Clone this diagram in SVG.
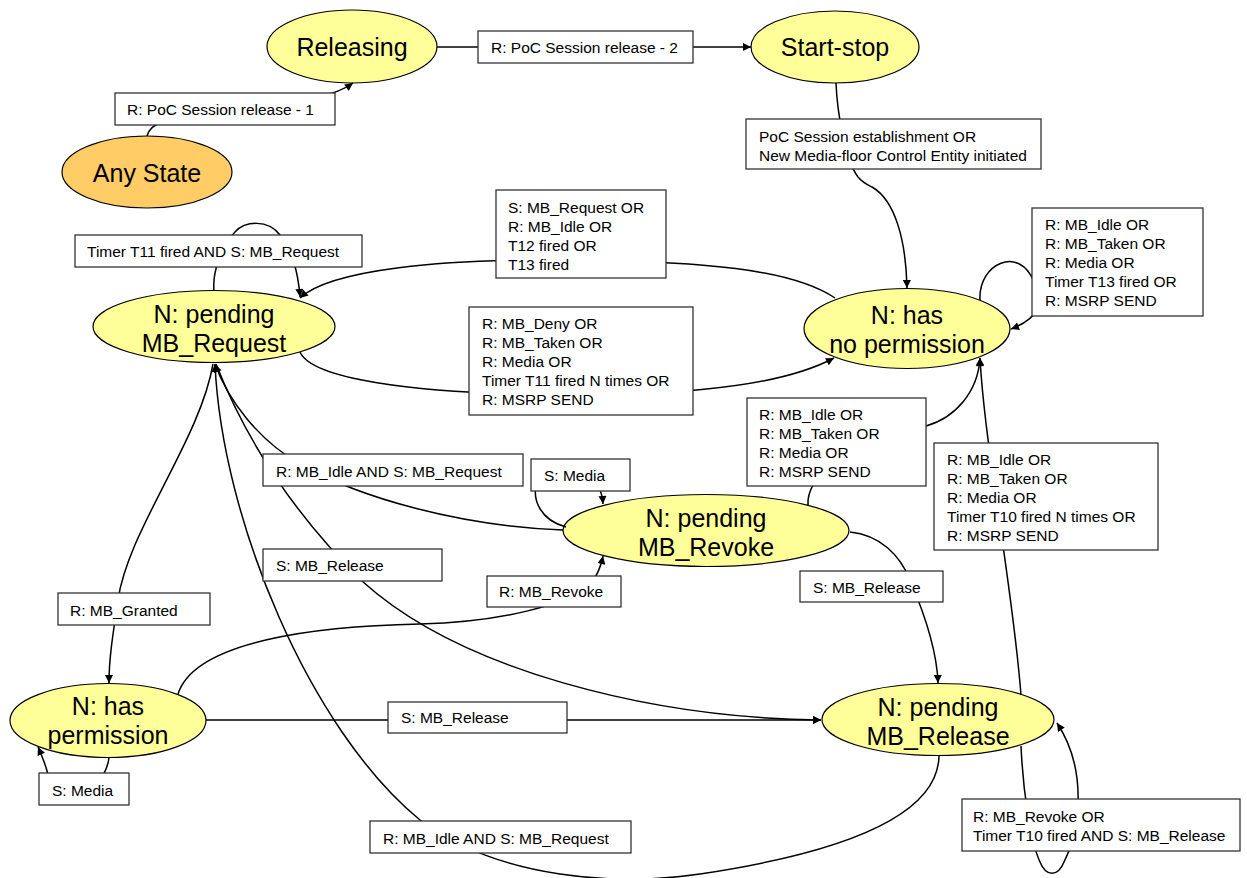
<svg xmlns="http://www.w3.org/2000/svg" width="1247" height="878" viewBox="0 0 1247 878">
<defs>
<marker id="arr" viewBox="0 0 10 10" refX="10" refY="5" markerWidth="10" markerHeight="8" markerUnits="userSpaceOnUse" orient="auto"><path d="M0,0 L10,5 L0,10 z" fill="#000"/></marker>
<style>
.node{fill:#FFFF99;stroke:#000;stroke-width:1.2}
.start{fill:#FFCC66;stroke:#000;stroke-width:1.2}
.nt{font-family:"Liberation Sans",Arial,sans-serif;font-size:25px;fill:#000;text-anchor:middle}
.e{fill:none;stroke:#000;stroke-width:1.5}
.ea{fill:none;stroke:#000;stroke-width:1.5;marker-end:url(#arr)}
.lb{fill:#fff;stroke:#333;stroke-width:1.3}
.lt{font-family:"Liberation Sans",Arial,sans-serif;font-size:15.5px;fill:#000}
</style>
</defs>
<rect width="1247" height="878" fill="#fff"/>

<g id="node-releasing"><ellipse class="node" cx="352" cy="46.5" rx="85" ry="36.5"/><text class="nt" x="352" y="56">Releasing</text></g>
<g id="node-startstop"><ellipse class="node" cx="835" cy="47" rx="84" ry="36"/><text class="nt" x="835" y="56">Start-stop</text></g>
<g id="node-anystate"><ellipse class="start" cx="147" cy="172" rx="85" ry="36"/><text class="nt" x="147" y="182">Any State</text></g>
<g id="node-pending-request"><ellipse class="node" cx="214" cy="326.5" rx="121" ry="36"/><text class="nt" x="214" y="323">N: pending</text><text class="nt" x="214" y="352">MB_Request</text></g>
<g id="node-no-permission"><ellipse class="node" cx="907" cy="328.5" rx="103" ry="40"/><text class="nt" x="907" y="324">N: has</text><text class="nt" x="907" y="353">no permission</text></g>
<g id="node-pending-revoke"><ellipse class="node" cx="706" cy="530.5" rx="143" ry="36"/><text class="nt" x="706" y="527">N: pending</text><text class="nt" x="706" y="556">MB_Revoke</text></g>
<g id="node-has-permission"><ellipse class="node" cx="108" cy="720.5" rx="98" ry="37"/><text class="nt" x="108" y="715">N: has</text><text class="nt" x="108" y="744">permission</text></g>
<g id="node-pending-release"><ellipse class="node" cx="938" cy="719.5" rx="116" ry="36"/><text class="nt" x="938" y="716">N: pending</text><text class="nt" x="938" y="745">MB_Release</text></g>

<g id="connectors">
<path class="ea" d="M147 136 C150 123,165 119,200 116 C290 108,335 96,353 83"/>
<path class="ea" d="M437 47 L751 47"/>
<path class="ea" d="M836 83 C837 110,845 160,858 177 C863 183,868 185,872 187 C895 200,906 240,907 288"/>
<path class="ea" d="M835 298 C790 268,700 262,580 260 C440 258,330 270,300 298"/>
<path class="ea" d="M214 291 C212 272,222 245,235 232 C245 221,268 219,280 235 C292 252,298 270,300 297"/>
<path class="ea" d="M980 300 C978 263,1020 245,1034 282 C1044 302,1040 318,1011 329"/>
<path class="ea" d="M300 352 C312 380,420 392,520 394 C650 396,770 392,834 358"/>
<path class="ea" d="M808 505 C806 480,840 440,926 426 C955 418,978 392,980 358"/>
<path class="ea" d="M1021 695 C1012 580,985 450,980 358"/>
<path class="ea" d="M1021 746 C1023 790,1030 840,1040 862 C1046 877,1058 877,1064 862 C1080 830,1088 770,1057 723"/>
<path class="ea" d="M563 530 C460 526,360 498,300 464 C258 440,228 400,215 364"/>
<path class="ea" d="M566 527 C540 520,533 500,536 485 C545 458,600 458,603 504"/>
<path class="ea" d="M216 364 C250 450,300 520,362 581 C460 670,650 718,821 720"/>
<path class="ea" d="M213 364 C200 440,128 530,118 600 C112 640,109 660,109 683"/>
<path class="ea" d="M109 757 C108 768,104 775,98 782 C80 800,52 795,48 775 C46 765,42 756,38 747"/>
<path class="ea" d="M178 694 C195 640,320 626,420 624 C500 622,570 605,592 582 C598 574,601 566,603 556"/>
<path class="ea" d="M206 720 L821 720"/>
<path class="ea" d="M850 532 C880 535,900 555,910 580 C925 615,937 650,938 683"/>
<path class="ea" d="M939 756 C938 810,860 850,700 874 C620 886,500 880,420 820 C310 730,222 520,215 364"/>
</g>

<g id="edge-labels">
<rect class="lb" x="115" y="93" width="220" height="32"/><text class="lt" x="127" y="115">R: PoC Session release - 1</text>
<rect class="lb" x="478" y="31" width="215" height="32"/><text class="lt" x="491" y="53">R: PoC Session release - 2</text>
<rect class="lb" x="746" y="119" width="295" height="50"/><text class="lt" x="759" y="142">PoC Session establishment OR</text><text class="lt" x="759" y="161">New Media-floor Control Entity initiated</text>
<rect class="lb" x="496" y="190" width="170" height="88"/><text class="lt" x="508" y="213">S: MB_Request OR</text><text class="lt" x="508" y="232">R: MB_Idle OR</text><text class="lt" x="508" y="251">T12 fired OR</text><text class="lt" x="508" y="270">T13 fired</text>
<rect class="lb" x="75" y="235" width="287" height="32"/><text class="lt" x="87" y="257">Timer T11 fired AND S: MB_Request</text>
<rect class="lb" x="1032" y="208" width="171" height="108"/><text class="lt" x="1045" y="230">R: MB_Idle OR</text><text class="lt" x="1045" y="249">R: MB_Taken OR</text><text class="lt" x="1045" y="268">R: Media OR</text><text class="lt" x="1045" y="287">Timer T13 fired OR</text><text class="lt" x="1045" y="306">R: MSRP SEND</text>
<rect class="lb" x="469" y="307" width="224" height="108"/><text class="lt" x="482" y="329">R: MB_Deny OR</text><text class="lt" x="482" y="348">R: MB_Taken OR</text><text class="lt" x="482" y="367">R: Media OR</text><text class="lt" x="482" y="386">Timer T11 fired N times OR</text><text class="lt" x="482" y="405">R: MSRP SEND</text>
<rect class="lb" x="747" y="398" width="179" height="88"/><text class="lt" x="759" y="420">R: MB_Idle OR</text><text class="lt" x="759" y="439">R: MB_Taken OR</text><text class="lt" x="759" y="458">R: Media OR</text><text class="lt" x="759" y="477">R: MSRP SEND</text>
<rect class="lb" x="934" y="443" width="224" height="107"/><text class="lt" x="947" y="465">R: MB_Idle OR</text><text class="lt" x="947" y="484">R: MB_Taken OR</text><text class="lt" x="947" y="503">R: Media OR</text><text class="lt" x="947" y="522">Timer T10 fired N times OR</text><text class="lt" x="947" y="541">R: MSRP SEND</text>
<rect class="lb" x="962" y="799" width="278" height="52"/><text class="lt" x="973" y="822">R: MB_Revoke OR</text><text class="lt" x="973" y="841">Timer T10 fired AND S: MB_Release</text>
<rect class="lb" x="263" y="454" width="260" height="32"/><text class="lt" x="276" y="477">R: MB_Idle AND S: MB_Request</text>
<rect class="lb" x="531" y="459" width="99" height="32"/><text class="lt" x="544" y="481">S: Media</text>
<rect class="lb" x="263" y="549" width="179" height="32"/><text class="lt" x="276" y="571">S: MB_Release</text>
<rect class="lb" x="58" y="593" width="152" height="32"/><text class="lt" x="70" y="616">R: MB_Granted</text>
<rect class="lb" x="39" y="773" width="90" height="32"/><text class="lt" x="52" y="796">S: Media</text>
<rect class="lb" x="487" y="576" width="134" height="31"/><text class="lt" x="499" y="597">R: MB_Revoke</text>
<rect class="lb" x="388" y="702" width="179" height="31"/><text class="lt" x="401" y="723">S: MB_Release</text>
<rect class="lb" x="800" y="571" width="143" height="31"/><text class="lt" x="813" y="593">S: MB_Release</text>
<rect class="lb" x="370" y="821" width="261" height="32"/><text class="lt" x="383" y="844">R: MB_Idle AND S: MB_Request</text>
</g>
</svg>
